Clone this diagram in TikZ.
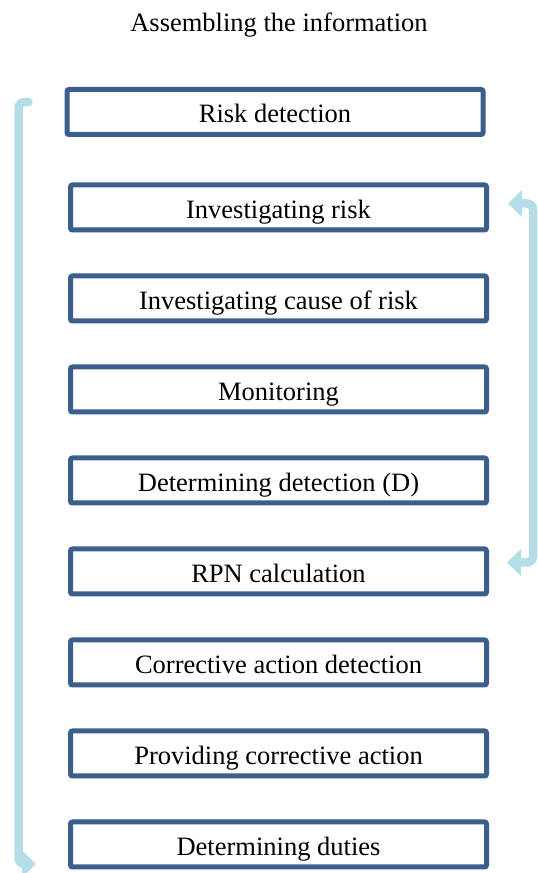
\documentclass[tikz,border=0pt]{standalone}
\usepackage{fontspec}
\setmainfont{Liberation Serif}
\usetikzlibrary{arrows.meta,positioning}
\definecolor{boxblue}{HTML}{3B5E8C}
\definecolor{flowblue}{HTML}{B4DDE8}

\begin{document}
\begin{tikzpicture}[x=1pt,y=1pt,node distance=91pt,>={Triangle[length=14pt,width=26pt]},
    box/.style={draw=boxblue,line width=5pt,rounded corners=2pt,minimum width=416pt,minimum height=45pt,inner sep=0pt,
        text height=22pt,text depth=0pt,font=\fontsize{26.5}{30}\selectfont},
    flow/.style={draw=flowblue,line width=8.5pt,rounded corners=6pt}]
            \useasboundingbox (0,0) rectangle (538,873);
            \node   [font=\fontsize{26.5}{30}\selectfont,anchor=base]   (title) at (279,841) {Assembling the information};

            \node   [box]                       (1) at (275,761)     {Risk detection};
            \node   [box]                       (2) at (278.5,665.5) {Investigating risk};
            \node   [box]   [below of=2]        (3) {Investigating cause of risk};
            \node   [box]   [below of=3]        (4) {Monitoring};
            \node   [box]   [below of=4]        (5) {Determining detection (D)};
            \node   [box]   [below of=5]        (6) {RPN calculation};
            \node   [box]   [below of=6]        (7) {Corrective action detection};
            \node   [box]   [below of=7]        (8) {Providing corrective action};
            \node   [box]   [below of=8]        (9) {Determining duties};

            % left loop: risk detection down to duties
            \coordinate (lt) at ([xshift=-36pt,yshift=10pt]1.west);
            \coordinate (lb) at ([xshift=-32pt,yshift=-19.5pt]9.west);
            \draw   [flow,line cap=round,->] (lt) -- ++(-10,0) |- (lb);

            % right loop: RPN calculation back to investigating risk
            \coordinate (rt) at ([xshift=19pt,yshift=4pt]2.east);
            \coordinate (rb) at ([xshift=18pt,yshift=9pt]6.east);
            \draw   [flow,<->] (rt) -- ++(25,0) |- (rb);
        \end{tikzpicture}
\end{document}
